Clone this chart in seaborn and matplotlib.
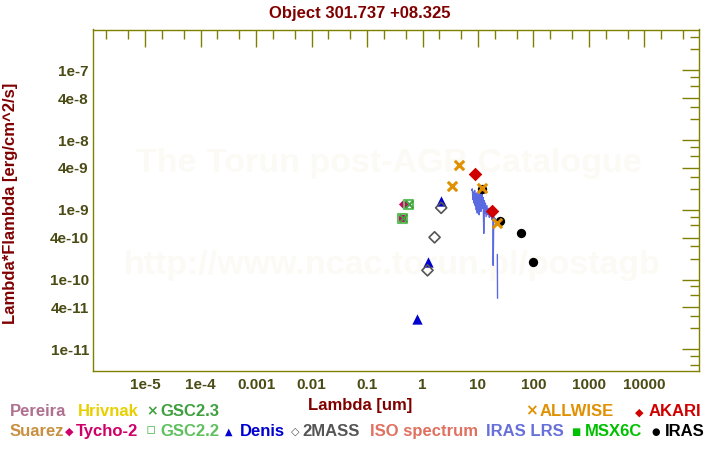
import numpy as np
import pandas as pd
import matplotlib
matplotlib.use("Agg")
import matplotlib.pyplot as plt
import seaborn as sns

# ---------------- data ----------------
title = "Object 301.737 +08.325"

allwise_wl = [3.35, 4.6, 11.6, 22.1]
allwise_f = [2.19e-9, 4.39e-9, 2.03e-9, 6.4e-10]

akari_wl = [9.0, 18.0]
akari_f = [3.23e-9, 9.6e-10]

iras_wl = [12.0, 25.0, 60.0, 100.0]
iras_f = [1.99e-9, 6.9e-10, 4.6e-10, 1.77e-10]

tycho_wl = [0.47, 0.43]
tycho_f = [1.2e-9, 7.55e-10]

gsc22_wl = [0.56, 0.44]
gsc22_f = [1.2e-9, 7.6e-10]

gsc23_wl = [0.56, 0.44]
gsc23_f = [1.2e-9, 7.6e-10]

denis_wl = [2.15, 1.25, 0.79]
denis_f = [1.35e-9, 1.8e-10, 2.69e-11]

mass2_wl = [2.17, 1.65, 1.23]
mass2_f = [1.07e-9, 4.04e-10, 1.36e-10]

lrs_wl = [7.7, 7.9, 8.1, 8.3, 8.5, 8.7, 8.9, 9.1, 9.3, 9.5, 9.7, 9.9, 10.1, 10.3,
          10.5, 10.7, 10.9, 11.1, 11.3, 11.5, 11.7, 11.9, 12.1, 12.4, 12.7, 13.0,
          13.3, 13.6, 14.0, 14.5, 15.0, 15.5, 16.0, 16.5, 17.0, 17.5, 18.0, 18.5,
          18.8, 19.2, 19.8, 20.4, 21.0, 21.6, 22.3, 22.5]
lrs_f = [1.9e-9, 2.0e-9, 1.4e-9, 1.8e-9, 1.25e-9, 1.9e-9, 1.15e-9, 1.7e-9, 1.0e-9,
         1.75e-9, 0.9e-9, 1.6e-9, 1.1e-9, 1.7e-9, 0.85e-9, 1.6e-9, 1.2e-9, 1.8e-9,
         0.95e-9, 1.65e-9, 1.2e-9, 1.75e-9, 1.05e-9, 1.5e-9, 0.46e-9, 1.35e-9,
         0.9e-9, 1.25e-9, 0.8e-9, 1.15e-9, 0.85e-9, 1.05e-9, 0.78e-9, 0.95e-9,
         0.8e-9, 0.92e-9, 0.72e-9, 0.88e-9, 0.16e-9, 0.8e-9, 0.7e-9, 0.75e-9,
         0.65e-9, 0.62e-9, 0.23e-9, 0.054e-9]
lrs_seg = [0] * 44 + [1, 1]

x_ticks = [1e-5, 1e-4, 1e-3, 1e-2, 1e-1, 1, 10, 100, 1000, 10000]
x_ticklabels = ["1e-5", "1e-4", "0.001", "0.01", "0.1", "1", "10", "100", "1000", "10000"]
y_ticks = [1e-11, 4e-11, 1e-10, 4e-10, 1e-9, 4e-9, 1e-8, 4e-8, 1e-7]
y_ticklabels = ["1e-11", "4e-11", "1e-10", "4e-10", "1e-9", "4e-9", "1e-8", "4e-8", "1e-7"]

# ---------------- style ----------------
sns.set_theme(style="white")
plt.rcParams["font.family"] = ["Liberation Sans", "DejaVu Sans"]
plt.rcParams["font.weight"] = "bold"

OLIVE = "#808000"
TICKTXT = "#4b4b16"
DARKRED = "#800000"

fig = plt.figure(figsize=(7.2, 4.5), dpi=100)
ax = fig.add_axes([93 / 720, 1 - 371 / 450, 606 / 720, 341.5 / 450])
ax.set_xscale("log")
ax.set_yscale("log")
ax.set_xlim(1.155e-6, 9.6e4)
ax.set_ylim(4.9e-12, 3.85e-7)

# watermark
ax.text(0.488, 0.609, "The Torun post-AGB Catalogue", transform=ax.transAxes,
        ha="center", va="center", fontsize=24.5, fontweight="bold",
        color="#fbfaf5", zorder=0)
ax.text(0.493, 0.31, "http://www.ncac.torun.pl/postagb", transform=ax.transAxes,
        ha="center", va="center", fontsize=24.5, fontweight="bold",
        color="#fbfaf5", zorder=0)

# IRAS LRS spectrum
lrs_df = pd.DataFrame({"wl": lrs_wl, "f": lrs_f, "seg": lrs_seg})
sns.lineplot(data=lrs_df, x="wl", y="f", units="seg", estimator=None, sort=False,
             color="#5a6ae0", linewidth=1.0, ax=ax, zorder=2, legend=False)

def scat(xs, ys, marker, s, color, lw=0.0, open_=False, z=3):
    sns.scatterplot(x=xs, y=ys, marker=marker, s=s, color=color,
                    edgecolor=color, linewidth=lw, ax=ax, zorder=z, legend=False)
    if open_:
        coll = ax.collections[-1]
        coll.set_facecolor("none")
        coll.set_edgecolor(color)
        coll.set_linewidth(lw)

scat(tycho_wl, tycho_f, "D", 32, "#d0006a", z=3)
scat(gsc22_wl, gsc22_f, "s", 40, "#60c060", lw=1.5, open_=True, z=4)
scat(gsc23_wl, gsc23_f, "x", 30, "#40a040", lw=1.5, z=5)
scat(denis_wl, denis_f, "^", 55, "#0000d0", z=3)
scat(mass2_wl, mass2_f, "D", 32, "#555555", lw=1.2, open_=True, z=3)
scat(iras_wl, iras_f, "o", 45, "#000000", z=3)
scat(akari_wl, akari_f, "D", 48, "#d00000", z=4)
scat(allwise_wl, allwise_f, "x", 45, "#e09000", lw=2.2, z=5)

# ticks
ax.set_xticks(x_ticks)
ax.set_xticklabels(x_ticklabels)
ax.set_yticks(y_ticks)
ax.set_yticklabels(y_ticklabels)
x_minor = [m * 10.0 ** k for k in range(-6, 5) for m in (2, 5)]
y_minor = [m * 10.0 ** k for k in range(-12, -6) for m in (2, 3, 6, 8)]
ax.set_xticks(x_minor, minor=True)
ax.set_yticks(y_minor, minor=True)
ax.xaxis.set_minor_formatter(matplotlib.ticker.NullFormatter())
ax.yaxis.set_minor_formatter(matplotlib.ticker.NullFormatter())
ax.set_xlim(1.155e-6, 9.6e4)
ax.set_ylim(4.9e-12, 3.85e-7)
ax.tick_params(which="both", direction="in", top=True, right=True,
               color=OLIVE, width=1)
ax.tick_params(which="major", length=12.5, labelsize=11, labelcolor=TICKTXT)
ax.tick_params(which="minor", length=6.5)
ax.tick_params(axis="y", which="major", pad=3)
ax.tick_params(axis="x", which="major", pad=5)
for lab in ax.get_xticklabels() + ax.get_yticklabels():
    lab.set_fontweight("bold")
for sp in ax.spines.values():
    sp.set_color(OLIVE)
    sp.set_linewidth(1)
ax.set_xlabel("")
ax.set_ylabel("")
ax.grid(False)

# titles / labels
fig.text(0.5, 1 - 18 / 450, title, ha="center", va="baseline",
         fontsize=12, fontweight="bold", color=DARKRED)
fig.text(360 / 720, 1 - 410 / 450, "Lambda [um]", ha="center", va="baseline",
         fontsize=12, fontweight="bold", color=DARKRED)
fig.text(11 / 720, 1 - 203 / 450, "Lambda*Flambda [erg/cm^2/s]", ha="center",
         va="center", rotation=90, fontsize=12, fontweight="bold", color=DARKRED)

# legend as coloured text
r1 = 1 - 416.5 / 450
r2 = 1 - 436 / 450

def lt(x, y, s, c, fs=12):
    fig.text(x / 720, y, s, ha="left", va="baseline", fontsize=fs,
             fontweight="bold", color=c)

def sym(x, y, s, c, fs=8):
    fig.text(x / 720, y, s, ha="left", va="baseline", fontsize=fs,
             color=c, family=["DejaVu Sans"])

lt(10, r1, "Pereira", "#b07090")
lt(78, r1, "Hrivnak", "#e8d000")
sym(146, r1 + 0.002, "\u00d7", "#40a040", fs=10)
lt(160, r1, "GSC2.3", "#40a040")
sym(525, r1 + 0.002, "\u00d7", "#e09000", fs=11)
lt(540, r1, "ALLWISE", "#e09000")
sym(635, r1 + 0.003, "\u25c6", "#d00000", fs=8)
lt(649, r1, "AKARI", "#d00000")

lt(10, r2, "Suarez", "#c89040")
sym(65, r2 + 0.003, "\u25c6", "#d0006a", fs=8)
lt(76, r2, "Tycho-2", "#d0006a")
sym(146, r2 + 0.003, "\u25ab", "#60c060", fs=11)
lt(160, r2, "GSC2.2", "#60c060")
sym(225, r2 + 0.003, "\u25b2", "#0000d0", fs=7)
lt(240, r2, "Denis", "#0000d0")
sym(291, r2 + 0.003, "\u25c7", "#555555", fs=8)
lt(302, r2, "2MASS", "#555555")
lt(370, r2, "ISO spectrum", "#e07060")
lt(486, r2, "IRAS LRS", "#6670d8")
sym(571, r2 + 0.003, "\u25a0", "#00c000", fs=7)
lt(585, r2, "MSX6C", "#00c000")
sym(651, r2 + 0.003, "\u25cf", "#000000", fs=7)
lt(665, r2, "IRAS", "#000000")

fig.savefig("out.png", dpi=100)
